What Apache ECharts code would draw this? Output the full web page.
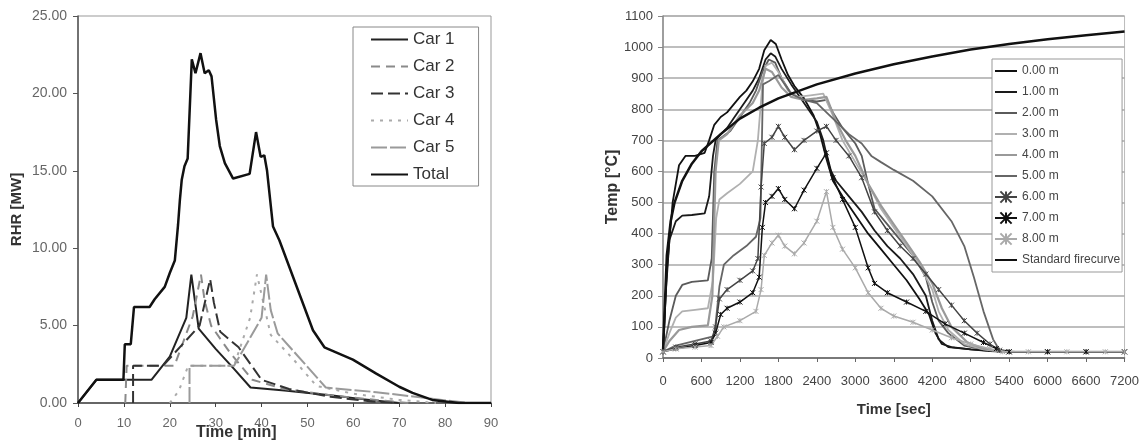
<!DOCTYPE html>
<html>
<head>
<meta charset="utf-8">
<script src="https://cdn.jsdelivr.net/npm/echarts@6/dist/echarts.min.js"></script>
<style>
  html, body { margin: 0; padding: 0; background: #fff; }
  #chart { width: 1142px; height: 441px; }
</style>
</head>
<body>
<div id="chart"></div>
<script>
// ---- left panel: rate of heat release [MW] vs time [min]
const car1 = [[0,0],[4,1.5],[16,1.5],[20,3.0],[23.6,5.5],[24.7,8.3],[26.3,4.8],[30,3.5],[34,2.2],[37.6,1.0],[45,0.8],[55,0.5],[62,0.25],[70,0]];
const car2 = [[10.3,0],[10.6,2.4],[21,2.4],[25,5.6],[26.8,8.3],[27.6,6.6],[29,5.0],[33,3.3],[38,1.5],[45,0.9],[55,0.5],[65,0.2],[72,0]];
const car3 = [[12,0],[12,2.4],[18.5,2.4],[26.5,5.0],[28.8,8.0],[29.6,6.5],[31,4.6],[35,3.6],[40,1.5],[46,0.9],[55,0.4],[64,0.1],[70,0]];
const car4 = [[20,0],[22,0.8],[24,2.4],[34,2.4],[37.5,5.5],[39,8.3],[40,7.0],[42,4.4],[47,2.8],[52,1.1],[60,0.6],[70,0.2],[78,0]];
const car5 = [[24.3,0],[24.3,2.4],[34,2.4],[40,5.5],[41,8.3],[42,6.0],[43.5,4.5],[54,1.0],[65,0.7],[75,0.35],[85,0]];
const total = [[0,0],[4,1.5],[9.9,1.5],[10.2,3.8],[11.5,3.8],[12.2,6.2],[15.6,6.2],[16.7,6.7],[18.9,7.5],[20,8.4],[21.1,9.2],[21.8,11.5],[22.2,13.1],[22.6,14.4],[23.2,15.3],[23.9,15.8],[24.8,22.2],[25.6,21.3],[26.7,22.6],[27.6,21.3],[28.5,21.5],[29.1,21.1],[30.1,18.3],[30.9,16.6],[32,15.5],[33.8,14.5],[37.4,14.8],[38.8,17.5],[39.8,15.9],[40.6,16.0],[41.2,15.0],[42.5,11.4],[43.9,10.5],[51.2,4.7],[53.7,3.6],[59.9,2.8],[65,1.9],[70,1.05],[72.9,0.65],[77.2,0.2],[83,0],[90,0]];
const carNames = ['Car 1','Car 2','Car 3','Car 4','Car 5','Total'];

// ---- right panel: temperature [°C] vs time [sec]
const t000 = [[0,20],[60,280],[150,500],[250,620],[350,650],[500,650],[650,660],[720,700],[800,750],[900,775],[1000,790],[1100,815],[1200,840],[1300,860],[1400,890],[1500,930],[1580,990],[1680,1023],[1760,1010],[1850,960],[1950,910],[2050,875],[2200,835],[2350,780],[2450,720],[2550,640],[2650,570],[2800,520],[3000,460],[3200,400],[3400,350],[3600,300],[3800,250],[4000,190],[4150,140],[4250,80],[4350,45],[4500,35],[4800,28],[5100,22],[5400,20],[6000,20],[6600,20],[7200,20]];
const t100 = [[0,20],[40,200],[100,380],[200,440],[300,458],[450,460],[650,465],[720,520],[780,650],[820,700],[900,720],[1000,740],[1100,770],[1200,800],[1300,830],[1400,860],[1500,900],[1600,960],[1680,980],[1750,970],[1850,930],[2000,880],[2200,820],[2400,760],[2500,700],[2600,610],[2700,570],[2900,520],[3100,470],[3300,410],[3500,360],[3700,320],[3900,270],[4100,200],[4200,120],[4300,60],[4450,35],[4800,28],[5200,22],[5500,20],[7200,20]];
const t200 = [[0,20],[100,120],[200,200],[300,235],[450,245],[700,250],[760,320],[800,600],[850,700],[950,715],[1050,730],[1150,760],[1250,790],[1350,820],[1450,860],[1550,920],[1650,960],[1750,950],[1850,900],[2000,850],[2200,830],[2400,825],[2550,830],[2650,790],[2800,740],[3000,690],[3100,650],[3200,560],[3300,480],[3500,430],[3700,380],[3900,330],[4100,260],[4200,180],[4300,120],[4450,80],[4700,40],[5000,28],[5300,20],[7200,20]];
const t300 = [[0,20],[100,80],[200,130],[300,150],[500,155],[700,160],[780,250],[830,450],[880,510],[1000,530],[1200,560],[1400,600],[1480,700],[1550,880],[1600,940],[1700,950],[1800,920],[1950,860],[2100,840],[2300,845],[2500,850],[2650,780],[2800,700],[3000,630],[3200,560],[3400,480],[3600,420],[3800,360],[4000,300],[4200,220],[4300,150],[4450,90],[4700,45],[5000,28],[5300,20],[7200,20]];
const t400 = [[0,20],[100,55],[250,90],[450,100],[700,105],[770,200],[820,600],[870,700],[1000,720],[1200,780],[1400,820],[1500,860],[1600,930],[1700,920],[1850,870],[2000,840],[2200,830],[2400,835],[2550,840],[2700,760],[2850,700],[3000,650],[3200,560],[3400,490],[3600,430],[3800,370],[4000,310],[4200,240],[4350,160],[4500,100],[4750,50],[5000,30],[5300,20],[7200,20]];
const t500 = [[0,20],[200,40],[500,55],[800,70],[880,230],[950,300],[1100,330],[1300,360],[1450,390],[1520,450],[1560,880],[1650,890],[1800,910],[1900,880],[2000,850],[2200,830],[2400,820],[2550,790],[2700,760],[2900,720],[3100,690],[3250,650],[3400,630],[3600,605],[3900,570],[4200,520],[4500,440],[4700,360],[4850,260],[5000,150],[5150,60],[5250,25],[5400,20],[7200,20]];
const t600 = [[0,20],[200,35],[500,45],[750,55],[820,100],[880,190],[1000,220],[1200,250],[1400,280],[1480,320],[1530,550],[1580,690],[1700,710],[1800,745],[1900,710],[2050,670],[2200,700],[2400,730],[2550,745],[2700,700],[2900,650],[3100,580],[3300,470],[3500,410],[3700,360],[3900,320],[4100,270],[4300,220],[4500,170],[4700,120],[4900,80],[5100,45],[5250,25],[5400,20],[6000,20],[6600,20],[7200,20]];
const t700 = [[0,20],[200,30],[500,40],[750,50],[820,80],[900,140],[1000,160],[1200,180],[1400,210],[1500,260],[1550,420],[1600,500],[1700,520],[1800,545],[1900,510],[2050,480],[2200,540],[2400,610],[2550,660],[2650,580],[2800,510],[3000,420],[3200,290],[3300,240],[3500,210],[3800,180],[4100,150],[4400,110],[4700,80],[5000,50],[5200,30],[5400,20],[6000,20],[6600,20],[7200,20]];
const t800 = [[0,20],[200,30],[500,35],[750,40],[850,70],[950,100],[1200,120],[1450,150],[1530,220],[1580,330],[1700,370],[1800,395],[1900,360],[2050,335],[2200,370],[2400,440],[2550,535],[2650,420],[2800,350],[3000,290],[3200,210],[3400,160],[3600,135],[3900,115],[4200,90],[4500,65],[4800,45],[5100,30],[5300,20],[5700,20],[6300,20],[6900,20],[7200,20]];
const fireCurve = [[0,20],[60,330],[120,440],[180,500],[300,570],[450,625],[600,665],[900,720],[1200,770],[1500,805],[1800,835],[2400,880],[3000,915],[3600,945],[4200,970],[4800,992],[5400,1010],[6000,1025],[6600,1038],[7200,1050]];
const tempNames = ['0.00 m','1.00 m','2.00 m','3.00 m','4.00 m','5.00 m','6.00 m','7.00 m','8.00 m','Standard firecurve'];
const markedNames = ['6.00 m','7.00 m','8.00 m'];

const FONT = 'Liberation Sans, Arial, sans-serif';
const cross = 'path://M0,0L10,10M10,0L0,10M5,0L5,10';

function carLine(name, data, color, width, type) {
    return {
        name: name, type: 'line', data: data, xAxisIndex: 0, yAxisIndex: 0,
        showSymbol: false, symbol: 'none', animation: false,
        lineStyle: { color: color, width: width, type: type },
        itemStyle: { color: color }
    };
}

function tempLine(name, data, color, width, marked) {
    return {
        name: name, type: 'line', data: data, xAxisIndex: 1, yAxisIndex: 1,
        symbol: marked ? cross : 'none', symbolSize: 5, showSymbol: !!marked,
        animation: false,
        lineStyle: { color: color, width: width },
        itemStyle: marked ? { color: 'rgba(0,0,0,0)', borderColor: color, borderWidth: 1 } : { color: color }
    };
}

const myChart = echarts.init(document.getElementById('chart'), null, { renderer: 'canvas' });

const option = {
    backgroundColor: '#fff',
    animation: false,
    textStyle: { fontFamily: FONT },
    grid: [
        { left: 78, top: 16, width: 413, height: 387, show: true, borderColor: '#999', borderWidth: 1 },
        { left: 663, top: 16, width: 462, height: 342, show: true, borderColor: '#bbb', borderWidth: 1 }
    ],
    xAxis: [
        {
            gridIndex: 0, type: 'value', min: 0, max: 90, interval: 10,
            axisLine: { lineStyle: { color: '#444', width: 1.5 } },
            axisTick: { show: true, inside: false, length: 4, lineStyle: { color: '#444' } },
            axisLabel: { color: '#666', fontSize: 13, margin: 14, fontFamily: FONT },
            splitLine: { show: false }
        },
        {
            gridIndex: 1, type: 'value', min: 0, max: 7200, interval: 600,
            axisLine: { lineStyle: { color: '#666', width: 1.5 } },
            axisTick: { show: true, inside: false, length: 4, lineStyle: { color: '#666' } },
            axisLabel: { color: '#444', fontSize: 13, margin: 17, fontFamily: FONT,
                formatter: v => String(v) },
            splitLine: { show: false },
            name: 'Time [sec]', nameLocation: 'middle', nameGap: 44,
            nameTextStyle: { color: '#333', fontSize: 15, fontWeight: 'bold', fontFamily: FONT }
        }
    ],
    yAxis: [
        {
            gridIndex: 0, type: 'value', min: 0, max: 25, interval: 5,
            axisLine: { show: true, lineStyle: { color: '#555', width: 1.5 } },
            axisTick: { show: true, inside: false, length: 5, lineStyle: { color: '#555' } },
            axisLabel: { color: '#666', fontSize: 14, margin: 11, fontFamily: FONT,
                formatter: v => v.toFixed(2) },
            splitLine: { show: false },
            name: 'RHR [MW]', nameLocation: 'middle', nameGap: 54, nameRotate: 90,
            nameTextStyle: { color: '#333', fontSize: 15, fontWeight: 'bold', fontFamily: FONT }
        },
        {
            gridIndex: 1, type: 'value', min: 0, max: 1100, interval: 100,
            axisLine: { show: true, lineStyle: { color: '#888', width: 1.5 } },
            axisTick: { show: true, inside: false, length: 5, lineStyle: { color: '#888' } },
            axisLabel: { color: '#444', fontSize: 13, margin: 10, fontFamily: FONT,
                formatter: v => String(v) },
            splitLine: { show: true, lineStyle: { color: '#a8a8a8', width: 1.5 } },
            name: 'Temp [°C]', nameLocation: 'middle', nameGap: 42, nameRotate: 90,
            nameTextStyle: { color: '#333', fontSize: 16, fontWeight: 'bold', fontFamily: FONT }
        }
    ],
    legend: [
        {
            data: carNames, orient: 'vertical', left: 353, top: 27,
            padding: [4, 24, 3, 17], itemGap: 10, itemWidth: 37, itemHeight: 17,
            borderColor: '#888', borderWidth: 1, backgroundColor: '#fff',
            itemStyle: { opacity: 0 },
            textStyle: { fontSize: 17, color: '#333', lineHeight: 17, fontFamily: FONT }
        },
        {
            data: tempNames.map(n => ({
                name: n,
                itemStyle: { opacity: markedNames.includes(n) ? 1 : 0 }
            })),
            orient: 'vertical', left: 992, top: 59,
            padding: [5, 2, 5, 2], itemGap: 7, itemWidth: 22, itemHeight: 14,
            borderColor: '#999', borderWidth: 1, backgroundColor: '#fff',
            textStyle: { fontSize: 12, color: '#444', lineHeight: 14, fontFamily: FONT }
        }
    ],
    graphic: [
        {
            type: 'text', left: 196, top: 425,
            style: { text: 'Time [min]', font: 'bold 16px ' + FONT, fill: '#333' }
        }
    ],
    series: [
        carLine('Car 1', car1, '#222', 2, 'solid'),
        carLine('Car 2', car2, '#8a8a8a', 2, [9, 6]),
        carLine('Car 3', car3, '#333', 2, [12, 5]),
        carLine('Car 4', car4, '#aaa', 2, [3, 6]),
        carLine('Car 5', car5, '#9a9a9a', 2, [16, 3]),
        carLine('Total', total, '#111', 2.5, 'solid'),
        tempLine('0.00 m', t000, '#111', 1.8, false),
        tempLine('1.00 m', t100, '#1a1a1a', 1.8, false),
        tempLine('2.00 m', t200, '#5a5a5a', 1.8, false),
        tempLine('3.00 m', t300, '#b0b0b0', 1.8, false),
        tempLine('4.00 m', t400, '#999', 2.2, false),
        tempLine('5.00 m', t500, '#666', 1.8, false),
        tempLine('6.00 m', t600, '#444', 1.5, true),
        tempLine('7.00 m', t700, '#111', 1.5, true),
        tempLine('8.00 m', t800, '#aaa', 1.5, true),
        tempLine('Standard firecurve', fireCurve, '#111', 2.5, false)
    ]
};

myChart.setOption(option);
</script>
</body>
</html>
